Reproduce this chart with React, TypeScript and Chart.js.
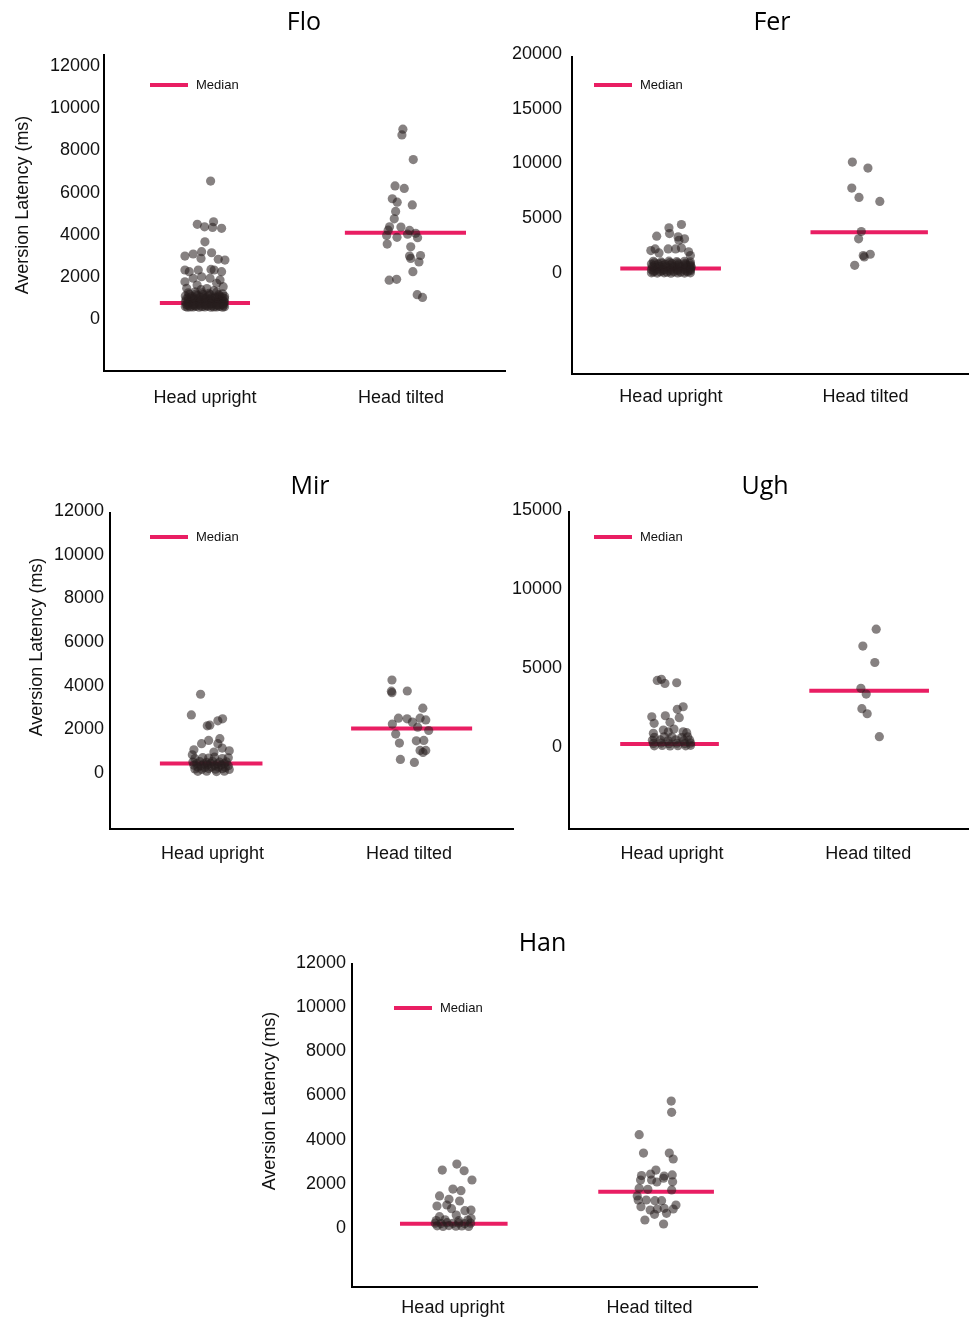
import React, { useEffect, useRef } from "react";
import { Chart, registerables } from "chart.js";

Chart.register(...registerables);

// [offset from the category centre (category units), aversion latency in ms]
type Pt = [number, number];

const categories = ["Head upright", "Head tilted"];
const yAxisTitle = "Aversion Latency (ms)";
const legendLabel = "Median";

// ---------- Flo ----------
const floUpright: Pt[] = [
  [0.029, 6450],
  [-0.039, 4400], [-0.002, 4280], [0.039, 4250], [0.044, 4520], [0.085, 4210],
  [0.0, 3570],
  [-0.102, 2890], [-0.06, 2990], [-0.017, 3100], [-0.02, 2780], [0.034, 3050], [0.068, 2740], [0.102, 2700],
  [-0.102, 2230], [-0.08, 2150], [-0.034, 2230], [0.031, 2260], [0.047, 2230], [0.085, 2150],
  [-0.102, 1670], [-0.06, 1840], [-0.017, 1910], [0.077, 1760], [0.093, 1440], [-0.093, 1360], [0.026, 1840],
  [-0.04, 1520], [0.06, 1600],
  [-0.02, 1300], [0.01, 1350], [0.045, 1250],
  [-0.085, 1150], [-0.05, 1200], [-0.015, 1150], [0.02, 1120], [0.06, 1180], [0.09, 1100],
  [-0.08, 1080], [-0.045, 1090], [-0.01, 1060], [0.025, 1070], [0.07, 1060],
  [-0.1, 1000], [-0.07, 980], [-0.04, 1020], [-0.01, 960], [0.02, 1000], [0.05, 950], [0.075, 1010], [0.1, 980],
  [-0.085, 930], [-0.055, 910], [-0.025, 930], [0.005, 920], [0.035, 900], [0.065, 930], [0.09, 920],
  [-0.095, 850], [-0.065, 870], [-0.035, 830], [-0.005, 880], [0.025, 840], [0.055, 860], [0.085, 830], [0.1, 870],
  [-0.085, 780], [-0.055, 800], [-0.025, 770], [0.005, 800], [0.035, 790], [0.065, 780], [0.095, 760],
  [-0.1, 720], [-0.07, 700], [-0.04, 740], [-0.01, 710], [0.02, 730], [0.05, 690], [0.08, 720], [0.1, 700],
  [-0.085, 660], [-0.055, 640], [-0.025, 660], [0.005, 650], [0.035, 640], [0.065, 660], [0.095, 640],
  [-0.095, 600], [-0.06, 580], [-0.03, 620], [0.0, 590], [0.03, 610], [0.06, 570], [0.09, 600],
  [-0.085, 550], [-0.055, 540], [-0.025, 560], [0.005, 545], [0.035, 540], [0.065, 555], [0.095, 550],
  [-0.1, 500], [-0.075, 480], [-0.045, 510], [-0.015, 490], [0.015, 520], [0.045, 480], [0.075, 500], [0.1, 490],
  [-0.09, 470], [-0.06, 475], [-0.03, 470], [0.0, 480], [0.03, 470], [0.06, 475], [0.09, 470],
];
const floTilted: Pt[] = [
  [0.01, 8910], [0.005, 8640], [0.063, 7470], [-0.03, 6220], [0.017, 6100],
  [-0.044, 5610], [-0.019, 5450], [0.058, 5320], [-0.027, 5010], [-0.034, 4660],
  [-0.058, 4280], [0.0, 4270], [-0.065, 4120], [0.044, 4110], [0.075, 3970],
  [-0.073, 3870], [-0.02, 3780], [0.034, 3930], [0.085, 3760], [-0.07, 3460],
  [0.05, 3330], [0.044, 2890], [0.05, 2780], [0.1, 2920], [0.092, 2610],
  [0.061, 2150], [-0.06, 1750], [-0.022, 1790], [0.083, 1060], [0.11, 930],
];
const floMedians = [660, 4000];
const floTicks = [0, 2000, 4000, 6000, 8000, 10000, 12000];

// ---------- Fer ----------
const ferUpright: Pt[] = [
  [0.054, 4220], [-0.01, 3920], [-0.007, 3390], [-0.073, 3150], [0.037, 3090], [0.07, 2910], [0.041, 2780],
  [-0.103, 1840], [-0.081, 1990], [-0.014, 1990], [0.024, 1990], [0.054, 2080], [0.091, 1720], [0.1, 1380], [-0.061, 1620],
  [-0.09, 850], [-0.05, 800], [-0.01, 870], [0.03, 820], [0.07, 860], [0.1, 800],
  [-0.085, 720], [-0.045, 700], [-0.005, 740], [0.035, 720], [0.075, 700],
  [-0.1, 600], [-0.065, 620], [-0.03, 580], [0.005, 640], [0.04, 600], [0.075, 590], [0.1, 620],
  [-0.085, 480], [-0.045, 470], [-0.005, 500], [0.035, 470], [0.075, 480], [0.1, 470],
  [-0.095, 350], [-0.06, 380], [-0.025, 330], [0.01, 360], [0.045, 340], [0.08, 370], [0.105, 340],
  [-0.085, 230], [-0.045, 220], [-0.005, 240], [0.035, 230], [0.075, 220], [0.1, 230],
  [-0.1, 100], [-0.07, 120], [-0.035, 80], [0.0, 110], [0.035, 90], [0.07, 120], [0.1, 100],
  [-0.085, -20], [-0.045, 0], [-0.005, -20], [0.035, 0], [0.075, -10], [0.1, 0],
  [-0.09, -120], [-0.055, -100], [-0.02, -140], [0.015, -110], [0.05, -130], [0.085, -100],
  [-0.1, -200], [-0.07, -220], [-0.035, -200], [0.0, -230], [0.035, -210], [0.07, -220], [0.1, -200],
];
const ferTilted: Pt[] = [
  [-0.068, 9935], [0.012, 9385], [-0.071, 7550], [-0.034, 6700], [0.073, 6330], [-0.022, 3580],
  [-0.036, 2910], [-0.007, 1260], [0.024, 1500], [-0.012, 1380], [-0.056, 490],
];
const ferMedians = [200, 3510];
const ferTicks = [0, 5000, 10000, 15000, 20000];

// ---------- Mir ----------
const mirUpright: Pt[] = [
  [-0.061, 3510], [-0.108, 2560], [-0.027, 2060], [-0.014, 2090], [0.027, 2290], [0.051, 2380],
  [-0.056, 1240], [-0.02, 1390], [0.037, 1470], [0.027, 1240], [0.049, 1040], [0.085, 915],
  [-0.095, 960], [0.007, 856], [-0.103, 730],
  [-0.09, 560], [-0.05, 600], [-0.02, 580], [0.01, 620], [0.05, 560], [0.08, 590],
  [-0.1, 400], [-0.065, 420], [-0.03, 380], [0.0, 430], [0.035, 390], [0.07, 410],
  [-0.08, 330], [-0.045, 310], [-0.01, 340], [0.025, 320], [0.06, 330],
  [-0.095, 250], [-0.06, 230], [-0.025, 270], [0.01, 240], [0.045, 260], [0.08, 230],
  [-0.075, 160], [-0.04, 150], [-0.005, 170], [0.03, 160], [0.065, 150],
  [-0.09, 80], [-0.055, 60], [-0.02, 100], [0.015, 70], [0.05, 90], [0.085, 60],
  [-0.075, -30], [-0.03, -20], [0.02, -40], [0.06, -20],
];
const mirTilted: Pt[] = [
  [-0.087, 4165], [-0.09, 3650], [-0.087, 3580], [-0.009, 3660], [0.07, 2870], [-0.054, 2410],
  [-0.01, 2380], [0.017, 2230], [0.056, 2410], [0.085, 2330], [-0.085, 2140], [0.044, 2000],
  [0.1, 1845], [-0.068, 1680], [-0.049, 1270], [0.037, 1370], [0.075, 1390], [0.056, 930],
  [0.085, 930], [0.071, 840], [-0.044, 517], [0.027, 380],
];
const mirMedians = [334, 1936];
const mirTicks = [0, 2000, 4000, 6000, 8000, 10000, 12000];

// ---------- Ugh ----------
const ughUpright: Pt[] = [
  [-0.075, 4095], [-0.054, 4160], [-0.036, 3905], [0.024, 3945],
  [0.057, 2425], [0.027, 2260], [-0.103, 1790], [-0.034, 1855], [0.037, 1730],
  [-0.091, 1375], [-0.01, 1440], [0.01, 1015], [-0.044, 950], [-0.095, 740],
  [0.057, 840], [0.075, 780], [-0.019, 840],
  [-0.09, 480], [-0.04, 520], [0.0, 500], [0.05, 470], [0.08, 520],
  [-0.1, 300], [-0.06, 320], [-0.02, 280], [0.02, 330], [0.06, 290], [0.09, 310],
  [-0.095, 100], [-0.055, 120], [-0.015, 80], [0.025, 110], [0.065, 90], [0.095, 120],
  [-0.09, -50], [-0.05, -30], [-0.01, -60], [0.03, -40], [0.07, -50], [0.095, -20],
];
const ughTilted: Pt[] = [
  [0.041, 7340], [-0.027, 6270], [0.034, 5230], [-0.037, 3590],
  [-0.01, 3230], [-0.032, 2300], [-0.005, 1980], [0.057, 525],
];
const ughMedians = [63, 3437];
const ughTicks = [0, 5000, 10000, 15000];

// ---------- Han ----------
const hanUpright: Pt[] = [
  [-0.054, 2530], [0.02, 2800], [0.057, 2500], [0.097, 2080],
  [0.0, 1670], [0.041, 1600], [-0.068, 1360], [-0.02, 1210], [0.034, 1130],
  [-0.081, 905], [-0.031, 950], [-0.007, 785], [0.061, 695], [0.092, 725],
  [0.017, 497], [-0.068, 422], [0.092, 347],
  [-0.085, 250], [-0.04, 280], [0.03, 240], [0.075, 270],
  [-0.09, 130], [-0.06, 110], [-0.03, 150], [0.0, 120], [0.03, 140], [0.06, 110], [0.09, 130],
  [-0.08, 10], [-0.05, -20], [-0.02, 20], [0.015, -10], [0.045, 0], [0.08, -20],
];
const hanTilted: Pt[] = [
  [0.11, 5650], [0.112, 5140], [-0.053, 4130], [-0.031, 3300], [0.1, 3300], [0.12, 3030],
  [0.032, 2530], [-0.041, 2280], [0.005, 2350], [0.074, 2260], [0.115, 2310], [-0.046, 2080],
  [0.01, 2080], [0.037, 1990], [0.071, 2160], [0.117, 2000], [-0.053, 1705], [-0.009, 1660],
  [0.112, 1630], [-0.063, 1360], [-0.017, 1176], [0.027, 1145], [0.061, 1145], [-0.058, 1176],
  [0.134, 950], [-0.044, 873], [0.003, 724], [0.039, 769], [0.074, 799], [0.12, 769],
  [0.025, 528], [0.086, 573], [-0.024, 271], [0.071, 90],
];
const hanMedians = [104, 1551];
const hanTicks = [0, 2000, 4000, 6000, 8000, 10000, 12000];

// ---------- layout / style (page pixel positions) ----------
interface PanelSpec {
  title: string;
  upright: Pt[];
  tilted: Pt[];
  medians: number[];
  ticks: number[];
  showYTitle: boolean;
  canvas: { l: number; t: number; w: number; h: number };
  area: { l: number; t: number; r: number; b: number };
  yRange: [number, number];
  xRange: [number, number];
  yPad: number;
  xPad: number;
  titlePos: { x: number; y: number };
  yTitlePos: { x: number; y: number };
  legendPos: { x: number; y: number };
  spans: [number, number][];
}

const panels: PanelSpec[] = [
  {
    title: "Flo", upright: floUpright, tilted: floTilted, medians: floMedians, ticks: floTicks, showYTitle: true,
    canvas: { l: 0, t: 0, w: 510, h: 420 }, area: { l: 104, t: 55, r: 505, b: 371 },
    yRange: [-2560, 12430], xRange: [-0.515, 1.531], yPad: 4, xPad: 16,
    titlePos: { x: 304, y: 30 }, yTitlePos: { x: 23, y: 205 }, legendPos: { x: 150, y: 85 },
    spans: [[-0.23, 0.23], [-0.286, 0.332]],
  },
  {
    title: "Fer", upright: ferUpright, tilted: ferTilted, medians: ferMedians, ticks: ferTicks, showYTitle: false,
    canvas: { l: 480, t: 0, w: 493, h: 420 }, area: { l: 572, t: 57, r: 973, b: 374 },
    yRange: [-9450, 19540], xRange: [-0.508, 1.528], yPad: 10, xPad: 12,
    titlePos: { x: 772, y: 30 }, yTitlePos: { x: 0, y: 0 }, legendPos: { x: 594, y: 85 },
    spans: [[-0.26, 0.257], [-0.283, 0.32]],
  },
  {
    title: "Mir", upright: mirUpright, tilted: mirTilted, medians: mirMedians, ticks: mirTicks, showYTitle: true,
    canvas: { l: 0, t: 460, w: 520, h: 420 }, area: { l: 110, t: 513, r: 513, b: 829 },
    yRange: [-2676, 11830], xRange: [-0.522, 1.529], yPad: 6, xPad: 14,
    titlePos: { x: 310, y: 494 }, yTitlePos: { x: 37, y: 647 }, legendPos: { x: 150, y: 537 },
    spans: [[-0.268, 0.254], [-0.295, 0.321]],
  },
  {
    title: "Ugh", upright: ughUpright, tilted: ughTilted, medians: ughMedians, ticks: ughTicks, showYTitle: false,
    canvas: { l: 480, t: 460, w: 493, h: 420 }, area: { l: 569, t: 512, r: 970, b: 829 },
    yRange: [-5323, 14766], xRange: [-0.525, 1.511], yPad: 7, xPad: 14,
    titlePos: { x: 765, y: 494 }, yTitlePos: { x: 0, y: 0 }, legendPos: { x: 594, y: 537 },
    spans: [[-0.264, 0.239], [-0.3, 0.31]],
  },
  {
    title: "Han", upright: hanUpright, tilted: hanTilted, medians: hanMedians, ticks: hanTicks, showYTitle: true,
    canvas: { l: 250, t: 915, w: 520, h: 402 }, area: { l: 352, t: 964, r: 757, b: 1287 },
    yRange: [-2759, 11851], xRange: [-0.513, 1.546], yPad: 6, xPad: 10.5,
    titlePos: { x: 542.5, y: 950.5 }, yTitlePos: { x: 270, y: 1101 }, legendPos: { x: 394, y: 1008 },
    spans: [[-0.269, 0.278], [-0.261, 0.327]],
  },
];

const PINK = "#E91E63";
const POINT = "rgba(40, 30, 30, 0.56)";
const SANS = "'Liberation Sans', Arial, sans-serif";
const TITLE_FONT = "'Open Sans', 'Noto Sans', sans-serif";

function Panel({ spec }: { spec: PanelSpec }) {
  const ref = useRef<HTMLCanvasElement>(null);
  const c = spec.canvas;

  useEffect(() => {
    const canvas = ref.current;
    if (!canvas) return;
    const a = spec.area;

    const decor = {
      id: "decor",
      afterDraw(chart: any) {
        const ctx = chart.ctx as CanvasRenderingContext2D;
        ctx.save();
        // title
        ctx.fillStyle = "#000";
        ctx.font = `25px ${TITLE_FONT}`;
        ctx.textAlign = "center";
        ctx.textBaseline = "alphabetic";
        ctx.fillText(spec.title, spec.titlePos.x - c.l, spec.titlePos.y - c.t);
        // y-axis title
        if (spec.showYTitle) {
          ctx.save();
          ctx.translate(spec.yTitlePos.x - c.l, spec.yTitlePos.y - c.t);
          ctx.rotate(-Math.PI / 2);
          ctx.fillStyle = "#111";
          ctx.font = `18px ${SANS}`;
          ctx.textAlign = "center";
          ctx.textBaseline = "middle";
          ctx.fillText(yAxisTitle, 0, 0);
          ctx.restore();
        }
        // legend
        const lx = spec.legendPos.x - c.l;
        const ly = spec.legendPos.y - c.t;
        ctx.strokeStyle = PINK;
        ctx.lineWidth = 4;
        ctx.beginPath();
        ctx.moveTo(lx, ly);
        ctx.lineTo(lx + 38, ly);
        ctx.stroke();
        ctx.fillStyle = "#111";
        ctx.font = `13px ${SANS}`;
        ctx.textAlign = "left";
        ctx.textBaseline = "middle";
        ctx.fillText(legendLabel, lx + 46, ly);
        ctx.restore();
      },
    };

    const pointSet = (pts: Pt[], idx: number) => ({
      type: "scatter" as const,
      data: pts.map(([j, v]) => ({ x: idx + j, y: v })),
      backgroundColor: POINT,
      borderWidth: 0,
      pointBorderWidth: 0,
      pointRadius: 4.6,
      pointHoverRadius: 4.6,
    });
    const medianSet = (idx: number) => ({
      type: "line" as const,
      data: [
        { x: idx + spec.spans[idx][0], y: spec.medians[idx] },
        { x: idx + spec.spans[idx][1], y: spec.medians[idx] },
      ],
      borderColor: PINK,
      borderWidth: 4,
      borderCapStyle: "butt" as const,
      pointRadius: 0,
      fill: false,
    });

    const chart = new Chart(canvas, {
      type: "scatter",
      data: {
        datasets: [
          pointSet(spec.upright, 0),
          pointSet(spec.tilted, 1),
          medianSet(0),
          medianSet(1),
        ] as any,
      },
      options: {
        animation: false,
        responsive: false,
        events: [],
        layout: {
          padding: {
            left: 0,
            top: a.t - c.t,
            right: c.l + c.w - a.r,
            bottom: 0,
          },
        },
        plugins: {
          legend: { display: false },
          tooltip: { enabled: false },
          title: { display: false },
        },
        scales: {
          x: {
            type: "linear",
            min: spec.xRange[0],
            max: spec.xRange[1],
            afterBuildTicks: (s: any) => {
              s.ticks = categories.map((_, i) => ({ value: i }));
            },
            afterFit: (s: any) => {
              s.height = c.t + c.h - a.b;
            },
            ticks: {
              autoSkip: false,
              maxRotation: 0,
              padding: spec.xPad,
              color: "#111",
              font: { family: SANS, size: 18 },
              callback: (v: any) => categories[Math.round(Number(v))] ?? "",
            },
            grid: { display: false, drawTicks: false },
            border: { display: true, color: "#000", width: 2 },
          },
          y: {
            type: "linear",
            min: spec.yRange[0],
            max: spec.yRange[1],
            afterBuildTicks: (s: any) => {
              s.ticks = spec.ticks.map((v) => ({ value: v }));
            },
            afterFit: (s: any) => {
              s.width = a.l - c.l;
            },
            ticks: {
              autoSkip: false,
              padding: spec.yPad,
              labelOffset: 2,
              color: "#111",
              font: { family: SANS, size: 18 },
              callback: (v: any) => String(v),
            },
            grid: { display: false, drawTicks: false },
            border: { display: true, color: "#000", width: 2 },
          },
        },
      } as any,
      plugins: [decor],
    });
    return () => chart.destroy();
  }, [spec]);

  return (
    <canvas
      ref={ref}
      width={c.w}
      height={c.h}
      style={{ position: "absolute", left: c.l, top: c.t, width: c.w, height: c.h }}
    />
  );
}

export default function App() {
  return (
    <div
      style={{
        position: "absolute",
        left: 0,
        top: 0,
        width: 973,
        height: 1317,
        background: "#fff",
        overflow: "hidden",
      }}
    >
      {panels.map((p) => (
        <Panel key={p.title} spec={p} />
      ))}
    </div>
  );
}
